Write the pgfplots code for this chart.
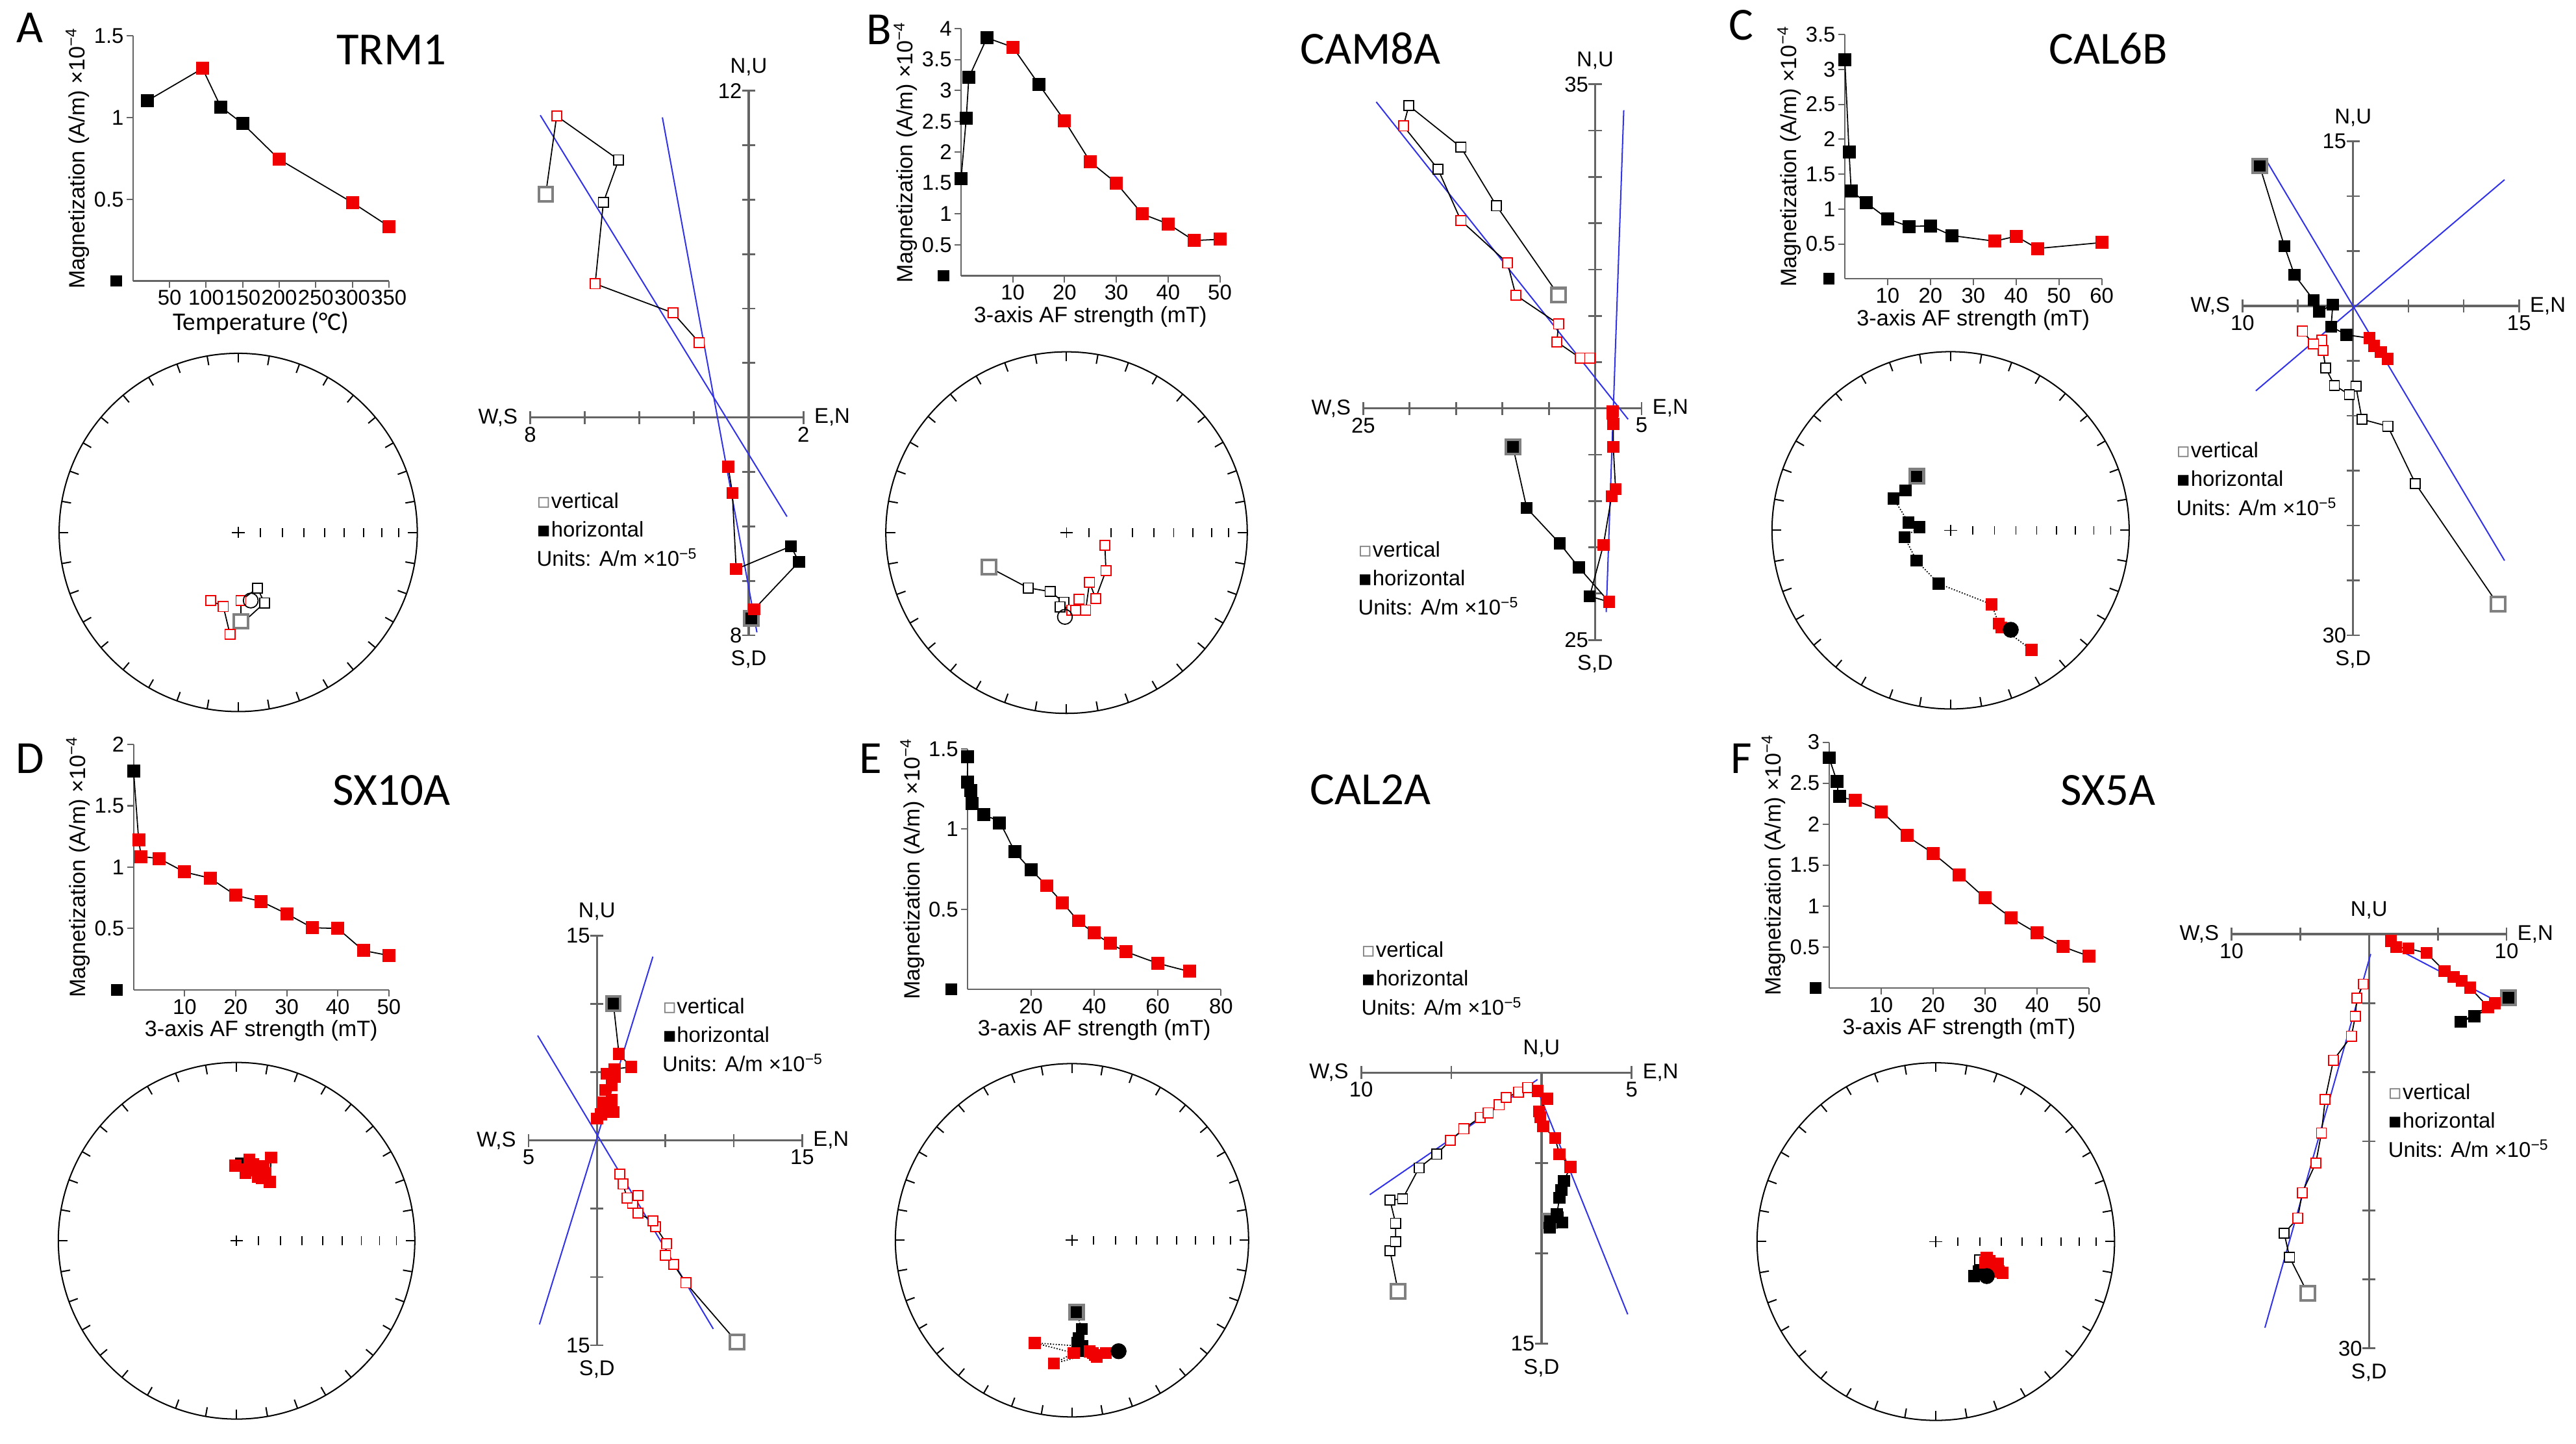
\documentclass[border=0pt]{standalone}
\usepackage{fontspec}
\setmainfont{Liberation Sans}
\newfontfamily\calfont{Carlito}
\newfontfamily\dejavu{DejaVu Sans}
\usepackage{pgfplots}
\pgfplotsset{compat=1.18}
\definecolor{fitblue}{RGB}{50,50,230}
\definecolor{axgray}{RGB}{100,100,100}
\definecolor{mkred}{RGB}{240,0,0}
\newcommand{\lab}{\fontsize{13}{15}\selectfont}

\pgfplotsset{
  cls/.style={scatter, point meta=explicit symbolic,
    scatter/classes={
      B={mark=square*, mark size=3.6pt, draw=black, fill=black, solid},
      R={mark=square*, mark size=3.6pt, draw=mkred, fill=mkred, solid},
      b={mark=square*, mark size=3.3pt, draw=black, fill=black, solid},
      r={mark=square*, mark size=3.3pt, draw=mkred, fill=mkred, solid},
      vb={mark=square*, mark size=3pt, draw=black, fill=white, solid},
      vr={mark=square*, mark size=3pt, draw=mkred, fill=white, solid},
      sv={mark=square*, mark size=4.3pt, draw=gray, fill=white, line width=1.6pt, solid},
      sh={mark=square*, mark size=4.3pt, draw=gray, fill=black, line width=1.6pt, solid},
      oc={mark=o, mark size=4.5pt, draw=black, solid},
      fc={mark=*, mark size=4.5pt, draw=black, fill=black, solid}}},
  dat/.style={black, line width=0.7pt, cls},
  fit/.style={fitblue, line width=0.8pt, mark=none},
  magax/.style={scale only axis, anchor=south west, axis lines=left, enlargelimits=false, clip=false,
    axis line style={-, draw=axgray, line width=0.9pt},
    tick style={draw=axgray, line width=0.8pt}, tick align=outside, major tick length=4pt,
    ticklabel style={font=\lab, inner sep=1.5pt},
    /pgf/number format/assume math mode=true,
    xlabel style={font=\fontsize{13.5}{16}\selectfont, inner sep=2pt},
    ylabel style={font=\fontsize{13.5}{16}\selectfont, inner sep=1pt},
    ylabel={Magnetization (A/m) ×10\textsuperscript{−4}},
    xlabel={3-axis AF strength (mT)}, ymin=0},
  zijax/.style={scale only axis, anchor=south west, axis lines=middle, enlargelimits=false, clip=false,
    axis line style={-, draw=axgray, line width=1.3pt},
    tick style={draw=axgray, line width=1.1pt}, tick align=center, major tick length=8pt,
    xticklabels={}, yticklabels={}},
  stax/.style={scale only axis, anchor=south west, hide axis, xmin=-1, xmax=1, ymin=-1, ymax=1,
    clip=false, enlargelimits=false},
}

\newcommand{\stereobase}{%
  \draw[black, line width=0.8pt] (axis cs:0,0) circle[radius=1];
  \pgfplotsinvokeforeach{0,10,...,350}{\draw[black, line width=0.8pt] (axis cs:{cos(##1)},{sin(##1)}) -- (axis cs:{0.948*cos(##1)},{0.948*sin(##1)});}
  \draw[black, line width=0.7pt] (axis cs:-0.035,0) -- (axis cs:0.035,0) (axis cs:0,-0.03) -- (axis cs:0,0.03);
  \pgfplotsinvokeforeach{0.123,0.246,0.366,0.482,0.593,0.700,0.802,0.897}{\draw[black, line width=0.7pt] (axis cs:##1,-0.025) -- (axis cs:##1,0.025);}
}
\newcommand{\zijlab}[8]{%
  \node[anchor=east, inner sep=0, font=\lab, xshift=-7.5pt] at (axis cs:#1,0) {W,S};
  \node[anchor=north, inner sep=0, font=\lab, yshift=-5.5pt] at (axis cs:#1,0) {#5};
  \node[anchor=west, inner sep=0, font=\lab, xshift=6.5pt] at (axis cs:#2,0) {E,N};
  \node[anchor=north, inner sep=0, font=\lab, yshift=-5.5pt] at (axis cs:#2,0) {#6};
  \node[anchor=south, inner sep=0, font=\lab, yshift=9pt] at (axis cs:0,#4) {N,U};
  \node[anchor=east, inner sep=0, font=\lab, xshift=-4pt] at (axis cs:0,#4) {#7};
  \node[anchor=east, inner sep=0, font=\lab, xshift=-4pt] at (axis cs:0,#3) {#8};
  \node[anchor=north, inner sep=0, font=\lab, yshift=-9pt] at (axis cs:0,#3) {S,D};
}
\newcommand{\zleg}[2]{%
  \node[anchor=west, inner sep=0, font=\lab] at (#1,#2) {{\dejavu\textcolor{gray}{▫}}vertical};
  \node[anchor=west, inner sep=0, font=\lab] at (#1,#2-17.4) {{\dejavu ▪}horizontal};
  \node[anchor=west, inner sep=0, font=\lab] at (#1,#2-34.5) {Units: A/m ×10\textsuperscript{−5}};
}

\begin{document}
\begin{tikzpicture}[x=1pt,y=1pt]
\path[use as bounding box] (0,0) rectangle (1568,878.3);

% ---------------- titles and letters
\begin{scope}[font=\calfont\fontsize{28}{30}\selectfont]
\node at (238.3,848) {TRM1};
\node at (834.2,848.9) {CAM8A};
\node at (1283.3,848.9) {CAL6B};
\node at (238.3,397.3) {SX10A};
\node at (834.2,397.8) {CAL2A};
\node at (1283.3,397.3) {SX5A};
\node at (18.3,861.5) {A};
\node at (535.2,860.1) {B};
\node at (1060,862.9) {C};
\node at (18.3,416.9) {D};
\node at (529.8,416.9) {E};
\node at (1060,416.9) {F};
\end{scope}

% ================= PANEL A
\begin{axis}[magax, at={(81pt,707.3pt)}, width=155.7pt, height=149.2pt, xmin=0, xmax=350, ymax=1.5,
  xtick={50,100,...,350}, ytick={0.5,1,1.5},
  xlabel={\calfont\fontsize{15.5}{18}\selectfont Temperature (°C)}]
\addplot[dat] coordinates {(20,1.104)[B] (95,1.30)[R] (120,1.065)[B] (150,0.963)[B] (200,0.744)[R] (300,0.48)[R] (350,0.334)[R]};
\addplot[only marks, mark=square*, mark size=3.3pt, black] coordinates {(-23,0)};
\end{axis}
\begin{axis}[stax, at={(36pt,445.3pt)}, width=218pt, height=218pt]
\stereobase
\addplot[dat] coordinates {(0.015,-0.496)[sv] (0.015,-0.380)[vr] (0.107,-0.311)[vb] (0.147,-0.393)[vb] (-0.046,-0.568)[vr] (-0.083,-0.414)[vr] (-0.153,-0.380)[vr]};
\addplot[dat, only marks] coordinates {(0.070,-0.380)[oc]};
\end{axis}
\begin{axis}[zijax, at={(322.7pt,491.7pt)}, width=166.3pt, height=331.4pt, xmin=-8, xmax=2, ymin=-8, ymax=12, xtick distance=2, ytick distance=2]
\addplot[fit] coordinates {(-7.63,11.1) (1.4,-3.64)};
\addplot[fit] coordinates {(-3.16,11.02) (0.3,-7.89)};
\addplot[dat] coordinates {(-7.43,8.2)[sv] (-7.03,11.07)[vr] (-4.76,9.46)[vb] (-5.32,7.9)[vb] (-5.62,4.91)[vr] (-2.77,3.84)[vr] (-1.81,2.75)[vr]};
\addplot[dat] coordinates {(0.1,-7.38)[sh] (0.2,-7.04)[r] (1.84,-5.3)[b] (1.54,-4.73)[b] (-0.46,-5.57)[r] (-0.6,-2.77)[r] (-0.75,-1.81)[r]};
\zijlab{-8}{2}{-8}{12}{8}{2}{12}{8}
\end{axis}
\zleg{326.5}{573.5}

% ================= PANEL B
\begin{axis}[magax, at={(585pt,710.5pt)}, width=157.5pt, height=150.4pt, xmin=0, xmax=50, ymax=4,
  xtick={10,20,...,50}, ytick={0.5,1,...,4}]
\addplot[dat] coordinates {(0,1.57)[B] (1,2.55)[B] (1.5,3.21)[B] (5,3.85)[B] (10,3.70)[R] (15,3.10)[B] (20,2.51)[R] (25,1.84)[R] (30,1.50)[R] (35,1.0)[R] (40,0.84)[R] (45,0.57)[R] (50,0.59)[R]};
\addplot[only marks, mark=square*, mark size=3.3pt, black] coordinates {(-3.4,0)};
\end{axis}
\begin{axis}[stax, at={(539.2pt,444.2pt)}, width=220pt, height=220pt]
\stereobase
\addplot[dat] coordinates {(-0.430,-0.191)[sv] (-0.212,-0.306)[vb] (-0.091,-0.326)[vb] (-0.015,-0.385)[vb] (0.030,-0.428)[vr] (-0.036,-0.410)[vb] (0.05,-0.43)[vr] (0.070,-0.369)[vr] (0.106,-0.428)[vr] (0.127,-0.275)[vr] (0.161,-0.364)[vr] (0.218,-0.211)[vr] (0.212,-0.071)[vr]};
\addplot[dat, only marks] coordinates {(-0.009,-0.466)[oc]};
\end{axis}
\begin{axis}[zijax, at={(829.8pt,488.9pt)}, width=169.4pt, height=338.1pt, xmin=-25, xmax=5, ymin=-25, ymax=35, xtick distance=5, ytick distance=5]
\addplot[fit] coordinates {(-23.6,33.1) (3.55,-1.17)};
\addplot[fit] coordinates {(3.08,32.2) (1.19,-22.0)};
\addplot[dat] coordinates {(-3.95,12.23)[sv] (-10.64,21.88)[vb] (-14.47,28.2)[vb] (-20.09,32.7)[vb] (-20.67,30.5)[vr] (-16.95,25.85)[vb] (-14.47,20.28)[vr] (-9.45,15.7)[vr] (-8.56,12.23)[vr] (-3.95,9.11)[vr] (-4.13,7.18)[vr] (-1.6,5.44)[vr] (-0.59,5.44)[vr]};
\addplot[dat] coordinates {(-8.86,-4.15)[sh] (-7.38,-10.76)[b] (-3.83,-14.57)[b] (-1.77,-17.16)[b] (1.49,-20.89)[r] (-0.59,-20.28)[b] (0.89,-14.73)[r] (1.77,-9.47)[r] (2.2,-8.72)[r] (1.95,-4.15)[r] (1.95,-1.67)[r] (1.84,-0.57)[r] (1.9,-0.3)[r]};
\zijlab{-25}{5}{-25}{35}{25}{5}{35}{25}
\end{axis}
\zleg{826.5}{544.1}

% ================= PANEL C
\begin{axis}[magax, at={(1122.9pt,708.6pt)}, width=156.4pt, height=148.7pt, xmin=0, xmax=60, ymax=3.5,
  xtick={10,20,...,60}, ytick={0.5,1,...,3.5}]
\addplot[dat] coordinates {(0,3.14)[B] (1,1.82)[B] (1.5,1.26)[B] (5,1.09)[B] (10,0.86)[B] (15,0.75)[B] (20,0.76)[B] (25,0.62)[B] (35,0.54)[R] (40,0.61)[R] (45,0.435)[R] (60,0.52)[R]};
\addplot[only marks, mark=square*, mark size=3.3pt, black] coordinates {(-3.7,0)};
\end{axis}
\begin{axis}[stax, at={(1078.6pt,446.9pt)}, width=217.4pt, height=217.4pt]
\stereobase
\addplot[dat, densely dotted] coordinates {(-0.190,0.302)[sh] (-0.252,0.224)[b] (-0.319,0.178)[b] (-0.236,0.044)[b] (-0.175,0.018)[b] (-0.258,-0.039)[b] (-0.190,-0.170)[b] (-0.067,-0.299)[b] (0.230,-0.415)[r] (0.270,-0.523)[r] (0.285,-0.544)[r] (0.454,-0.670)[r]};
\addplot[dat, only marks] coordinates {(0.337,-0.557)[fc]};
\end{axis}
\begin{axis}[zijax, at={(1365pt,491.7pt)}, width=168.3pt, height=300.6pt, xmin=-10, xmax=15, ymin=-30, ymax=15, xtick distance=5, ytick distance=5]
\addplot[fit] coordinates {(-7.8,13.18) (13.69,-23.19)};
\addplot[fit] coordinates {(-8.8,-7.73) (13.69,11.5)};
\addplot[dat] coordinates {(13.09,-27.17)[sv] (5.63,-16.17)[vb] (3.13,-10.95)[vb] (0.8,-10.32)[vb] (0.25,-7.31)[vb] (-0.34,-8.07)[vb] (-1.69,-7.23)[vb] (-2.48,-5.64)[vb] (-2.73,-4.05)[vr] (-2.84,-3.13)[vr] (-3.58,-3.47)[vr] (-4.57,-2.3)[vr]};
\addplot[dat] coordinates {(-8.45,12.76)[sh] (-6.21,5.44)[b] (-5.31,2.85)[b] (-3.58,0.55)[b] (-3.07,-0.54)[b] (-1.84,0.13)[b] (-1.99,-1.88)[b] (-0.6,-2.63)[b] (1.49,-2.93)[r] (1.9,-3.63)[r] (2.5,-4.2)[r] (3.13,-4.81)[r]};
\zijlab{-10}{15}{-30}{15}{10}{15}{15}{30}
\end{axis}
\zleg{1324.5}{604.3}

% ================= PANEL D
\begin{axis}[magax, at={(81.3pt,276pt)}, width=155.4pt, height=149.3pt, xmin=0, xmax=50, ymax=2,
  xtick={10,20,...,50}, ytick={0.5,1,1.5,2}]
\addplot[dat] coordinates {(0,1.785)[B] (1,1.22)[R] (1.5,1.087)[R] (5,1.07)[R] (10,0.96)[R] (15,0.91)[R] (20,0.77)[R] (25,0.72)[R] (30,0.62)[R] (35,0.506)[R] (40,0.50)[R] (45,0.32)[R] (50,0.28)[R]};
\addplot[only marks, mark=square*, mark size=3.3pt, black] coordinates {(-3.3,0)};
\end{axis}
\begin{axis}[stax, at={(35.5pt,14.8pt)}, width=217pt, height=217pt]
\stereobase
\addplot[dat] coordinates {(0.025,0.434)[b] (-0.006,0.421)[r] (0.071,0.454)[r] (0.049,0.382)[r] (0.111,0.395)[r] (0.163,0.377)[r] (0.194,0.467)[r] (0.187,0.330)[r] (0.141,0.351)[r] (0.092,0.429)[r] (0.12,0.36)[r] (0.06,0.40)[r] (0.15,0.42)[r]};
\end{axis}
\begin{axis}[zijax, at={(321.7pt,59.7pt)}, width=166.6pt, height=249.3pt, xmin=-5, xmax=15, ymin=-15, ymax=15, xtick distance=5, ytick distance=5]
\addplot[fit] coordinates {(-4.33,7.68) (8.5,-13.8)};
\addplot[fit] coordinates {(4.09,13.46) (-4.2,-13.47)};
\addplot[dat] coordinates {(10.22,-14.75)[sv] (6.49,-10.43)[vr] (5.61,-9.09)[vr] (5.01,-8.41)[vr] (5.1,-7.57)[vr] (4.29,-6.33)[vr] (4.09,-5.89)[vr] (3.0,-5.32)[vr] (2.6,-4.6)[vr] (3.0,-4.04)[vr] (2.21,-4.21)[vr] (1.9,-3.2)[vr] (1.68,-2.46)[vr]};
\addplot[dat] coordinates {(1.2,10.03)[sh] (1.61,6.33)[r] (2.49,5.39)[r] (1.29,5.22)[r] (0.69,4.88)[r] (1.29,4.65)[r] (1.08,4.04)[r] (0.6,3.70)[r] (1.08,2.96)[r] (0.48,2.76)[r] (1.2,2.09)[r] (0.3,1.9)[r] (0,1.61)[r]};
\zijlab{-5}{15}{-15}{15}{5}{15}{15}{15}
\end{axis}
\zleg{403}{266.2}

% ================= PANEL E
\begin{axis}[magax, at={(589pt,276.3pt)}, width=154.2pt, height=146.2pt, xmin=0, xmax=80, ymax=1.5,
  xtick={20,40,60,80}, ytick={0.5,1,1.5}]
\addplot[dat, smooth] coordinates {(0,1.45)[B] (0,1.293)[B] (1,1.241)[B] (1.5,1.161)[B] (5,1.09)[B] (10,1.04)[B] (15,0.86)[B] (20,0.747)[B] (25,0.647)[R] (30,0.54)[R] (35,0.428)[R] (40,0.351)[R] (45,0.287)[R] (50,0.236)[R] (60,0.164)[R] (70,0.112)[R]};
\addplot[only marks, mark=square*, mark size=3.3pt, black] coordinates {(-5.1,0)};
\end{axis}
\begin{axis}[stax, at={(545pt,16.1pt)}, width=215pt, height=215pt]
\stereobase
\addplot[dat, densely dotted] coordinates {(0.025,-0.406)[sh] (0.056,-0.503)[b] (0.037,-0.555)[b] (0.047,-0.602)[b] (0.062,-0.628)[b] (0.03,-0.58)[b] (0.05,-0.62)[b] (0.06,-0.60)[b] (-0.211,-0.581)[r] (0.009,-0.638)[r] (-0.102,-0.698)[r] (0.118,-0.638)[r] (0.140,-0.659)[r] (0.192,-0.638)[r] (0.13,-0.65)[r] (0.10,-0.63)[r]};
\addplot[dat, only marks] coordinates {(0.264,-0.628)[fc]};
\end{axis}
\begin{axis}[zijax, at={(828.5pt,60.6pt)}, width=164.7pt, height=165pt, xmin=-10, xmax=5, ymin=-15, ymax=0, xtick distance=5, ytick distance=5]
\addplot[fit] coordinates {(-9.52,-6.75) (-0.22,-0.38)};
\addplot[fit] coordinates {(-0.22,-0.95) (4.78,-13.37)};
\addplot[dat] coordinates {(-7.95,-12.1)[sv] (-8.4,-9.85)[vb] (-8.09,-9.35)[vb] (-8.09,-8.33)[vb] (-8.4,-7.05)[vb] (-7.7,-6.98)[vb] (-6.79,-5.27)[vb] (-5.82,-4.51)[vb] (-5.06,-3.75)[vr] (-4.31,-3.11)[vr] (-3.4,-2.47)[vr] (-2.95,-2.22)[vr] (-2.34,-1.78)[vr] (-1.95,-1.38)[vr] (-1.27,-1.07)[vr] (-0.76,-0.82)[vr]};
\addplot[dat] coordinates {(0.45,-8.2)[sh] (0.45,-8.58)[b] (1.15,-8.28)[b] (0.9,-8.0)[b] (0.85,-7.82)[b] (1.0,-6.93)[b] (1.1,-6.5)[b] (1.24,-5.99)[b] (1.6,-5.22)[r] (1.0,-4.51)[r] (0.75,-3.62)[r] (0.09,-2.98)[r] (-0.06,-2.47)[r] (-0.15,-2.15)[r] (0.33,-1.45)[r] (-0.22,-1.02)[r]};
\zijlab{-10}{5}{-15}{0}{10}{5}{}{15}
\end{axis}
\zleg{828.5}{300.6}

% ================= PANEL F
\begin{axis}[magax, at={(1113.3pt,277.1pt)}, width=158.4pt, height=149.6pt, xmin=0, xmax=50, ymax=3,
  xtick={10,20,...,50}, ytick={0.5,1,...,3}]
\addplot[dat, smooth] coordinates {(0,2.81)[B] (1.5,2.52)[B] (2,2.34)[B] (5,2.29)[R] (10,2.15)[R] (15,1.86)[R] (20,1.64)[R] (25,1.38)[R] (30,1.10)[R] (35,0.86)[R] (40,0.67)[R] (45,0.506)[R] (50,0.388)[R]};
\addplot[only marks, mark=square*, mark size=3.3pt, black] coordinates {(-2.6,0)};
\end{axis}
\begin{axis}[stax, at={(1069.5pt,14pt)}, width=217.6pt, height=217.6pt]
\stereobase
\addplot[dat] coordinates {(0.245,-0.103)[vb] (0.239,-0.167)[b] (0.214,-0.193)[b] (0.285,-0.090)[r] (0.346,-0.124)[r] (0.306,-0.154)[r] (0.374,-0.175)[r] (0.328,-0.134)[r] (0.276,-0.116)[r] (0.352,-0.167)[r] (0.30,-0.11)[r]};
\addplot[dat, only marks] coordinates {(0.285,-0.193)[fc]};
\end{axis}
\begin{axis}[zijax, at={(1358.3pt,57.8pt)}, width=167.4pt, height=252.1pt, xmin=-10, xmax=10, ymin=-30, ymax=0, xtick distance=5, ytick distance=5]
\addplot[fit] coordinates {(0.12,-1.44) (-7.57,-28.5)};
\addplot[fit] coordinates {(1.79,-0.94) (9.14,-4.78)};
\addplot[dat] coordinates {(-4.46,-26.0)[sv] (-5.78,-23.4)[vb] (-6.17,-21.66)[vb] (-5.18,-20.56)[vr] (-4.86,-18.72)[vr] (-3.87,-16.58)[vr] (-3.46,-14.4)[vr] (-3.19,-11.97)[vr] (-2.59,-9.13)[vr] (-1.28,-7.39)[vr] (-1.0,-5.95)[vr] (-0.88,-4.62)[vr] (-0.41,-3.62)[vr]};
\addplot[dat] coordinates {(10.14,-4.62)[sh] (7.67,-5.95)[b] (6.68,-6.35)[b] (9.14,-5.01)[r] (8.66,-5.28)[r] (7.35,-3.88)[r] (6.75,-3.38)[r] (6.16,-3.11)[r] (5.49,-2.67)[r] (4.18,-1.37)[r] (2.86,-1.04)[r] (1.98,-0.94)[r] (1.59,-0.5)[r]};
\zijlab{-10}{10}{-30}{0}{10}{10}{}{30}
\end{axis}
\zleg{1453.5}{213.8}

\end{tikzpicture}
\end{document}
